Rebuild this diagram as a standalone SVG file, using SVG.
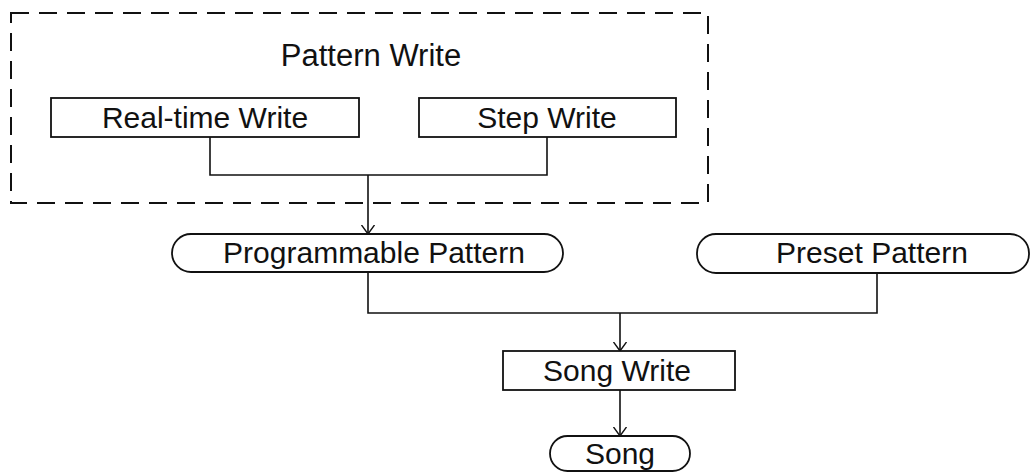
<svg xmlns="http://www.w3.org/2000/svg" width="1031" height="476" viewBox="0 0 1031 476">
<defs>
<style>
.box{fill:#fff;stroke:#111;stroke-width:1.8}
.lbl{font-family:"Liberation Sans",Arial,sans-serif;font-size:30px;fill:#111;text-anchor:middle}
.ln{fill:none;stroke:#111;stroke-width:1.6}
.dash{fill:none;stroke:#111;stroke-width:2;stroke-dasharray:18 10}
</style>
<marker id="arr" viewBox="0 0 10 14" refX="9.5" refY="7" markerWidth="10" markerHeight="14" markerUnits="userSpaceOnUse" orient="auto">
<path d="M0.5,0.5 L9.5,7 L0.5,13.5" fill="none" stroke="#111" stroke-width="1.4"/>
</marker>
</defs>
<rect width="1031" height="476" fill="#fff"/>
<g id="pattern-write-group">
<rect class="dash" x="11" y="13" width="697" height="190"/>
<text class="lbl" x="371" y="66" style="font-size:31px">Pattern Write</text>
</g>
<g id="connectors">
<polyline class="ln" points="210,137 210,175 547,175 547,137"/>
<line class="ln" x1="368" y1="175" x2="368" y2="234" marker-end="url(#arr)"/>
<polyline class="ln" points="368,272 368,313 877,313 877,273"/>
<line class="ln" x1="620" y1="313" x2="620" y2="351" marker-end="url(#arr)"/>
<line class="ln" x1="620" y1="390" x2="620" y2="436" marker-end="url(#arr)"/>
</g>
<g id="realtime-write">
<rect class="box" x="51" y="98" width="308" height="39"/>
<text class="lbl" x="205" y="128">Real-time Write</text>
</g>
<g id="step-write">
<rect class="box" x="419" y="98" width="257" height="39"/>
<text class="lbl" x="547" y="128">Step Write</text>
</g>
<g id="programmable-pattern">
<rect class="box" x="172" y="234" width="391" height="38" rx="19"/>
<text class="lbl" x="374" y="263">Programmable Pattern</text>
</g>
<g id="preset-pattern">
<rect class="box" x="697" y="234" width="332" height="39" rx="19"/>
<text class="lbl" x="872" y="263">Preset Pattern</text>
</g>
<g id="song-write">
<rect class="box" x="503" y="351" width="232" height="39"/>
<text class="lbl" x="617" y="381">Song Write</text>
</g>
<g id="song">
<rect class="box" x="550" y="436" width="140" height="35" rx="17.5"/>
<text class="lbl" x="620" y="464">Song</text>
</g>
</svg>
